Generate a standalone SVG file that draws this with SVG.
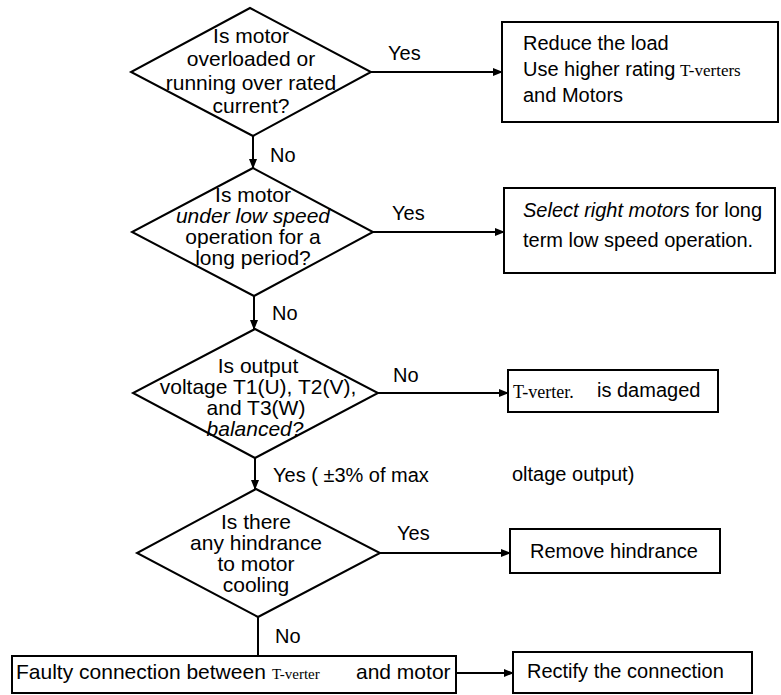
<svg xmlns="http://www.w3.org/2000/svg" width="781" height="695" viewBox="0 0 781 695">
<defs>
<marker id="ah" viewBox="0 0 10 8" refX="9" refY="4" markerWidth="10" markerHeight="8" markerUnits="userSpaceOnUse" orient="auto"><path d="M0,0 L10,4 L0,8 z" fill="#000"/></marker>
<style>
.s{fill:#fff;stroke:#000;stroke-width:2}
.c{fill:none;stroke:#000;stroke-width:2}
text{font-family:"Liberation Sans",Arial,sans-serif;font-size:20px;fill:#000}
.m{text-anchor:middle;font-size:21px}
.i{font-style:italic}
.sf{font-family:"Liberation Serif","Times New Roman",serif;font-size:17px}
.b5{font-size:21px}
</style>
</defs>
<rect width="781" height="695" fill="#fff"/>
<g id="connectors">
<path class="c" d="M371,72 H502" marker-end="url(#ah)"/>
<path class="c" d="M373,232 H504" marker-end="url(#ah)"/>
<path class="c" d="M378,393 H508" marker-end="url(#ah)"/>
<path class="c" d="M380,553 H510" marker-end="url(#ah)"/>
<path class="c" d="M253,136 V168" marker-end="url(#ah)"/>
<path class="c" d="M254,296 V329" marker-end="url(#ah)"/>
<path class="c" d="M255,458 V489" marker-end="url(#ah)"/>
<path class="c" d="M258,617 V656"/>
<path class="c" d="M456,673 H513" marker-end="url(#ah)"/>
<text x="388" y="60">Yes</text>
<text x="270" y="162">No</text>
<text x="392" y="220">Yes</text>
<text x="272" y="320">No</text>
<text x="393" y="382">No</text>
<text x="273" y="482">Yes ( ±3% of max</text>
<text x="512" y="481">oltage output)</text>
<text x="397" y="540">Yes</text>
<text x="275" y="643">No</text>
</g>
<g id="d1">
<polygon class="s" points="250,8 371,72 253,136 131,72"/>
<text class="m" x="251" y="43">Is motor</text>
<text class="m" x="251" y="66">overloaded or</text>
<text class="m" x="251" y="90">running over rated</text>
<text class="m" x="251" y="113">current?</text>
</g>
<g id="b1">
<rect class="s" x="502" y="22" width="276" height="100"/>
<text x="523" y="50">Reduce the load</text>
<text x="523" y="76">Use higher rating</text>
<text class="sf" x="680" y="76">T-verters</text>
<text x="523" y="102">and Motors</text>
</g>
<g id="d2">
<polygon class="s" points="253,168 373,232 254,296 132,232"/>
<text class="m" x="253" y="202">Is motor</text>
<text class="m i" x="253" y="223">under low speed</text>
<text class="m" x="253" y="244">operation for a</text>
<text class="m" x="253" y="265">long period?</text>
</g>
<g id="b2">
<rect class="s" x="504" y="188" width="271" height="85"/>
<text x="523" y="217"><tspan class="i">Select right motors</tspan> for long</text>
<text x="523" y="247">term low speed operation.</text>
</g>
<g id="d3">
<polygon class="s" points="255,329 378,393 255,458 133,393"/>
<text class="m" x="258" y="373">Is output</text>
<text class="m" x="258" y="394">voltage T1(U), T2(V),</text>
<text class="m" x="256" y="415">and T3(W)</text>
<text class="m i" x="255" y="436">balanced?</text>
</g>
<g id="b3">
<rect class="s" x="508" y="370" width="210" height="42"/>
<text class="sf" x="513" y="398" style="font-size:18px">T-verter.</text>
<text x="597" y="397">is damaged</text>
</g>
<g id="d4">
<polygon class="s" points="256,489 380,553 258,617 137,553"/>
<text class="m" x="256" y="529">Is there</text>
<text class="m" x="256" y="550">any hindrance</text>
<text class="m" x="256" y="571">to motor</text>
<text class="m" x="256" y="592">cooling</text>
</g>
<g id="b4">
<rect class="s" x="510" y="529" width="210" height="44"/>
<text x="530" y="558">Remove hindrance</text>
</g>
<g id="b5">
<rect class="s" x="12" y="656" width="444" height="37"/>
<text class="b5" x="16" y="679">Faulty connection between</text>
<text class="sf" x="272" y="679" style="font-size:15px">T-verter</text>
<text class="b5" x="356" y="679">and motor</text>
</g>
<g id="b6">
<rect class="s" x="513" y="652" width="239" height="41"/>
<text x="527" y="678">Rectify the connection</text>
</g>
</svg>
